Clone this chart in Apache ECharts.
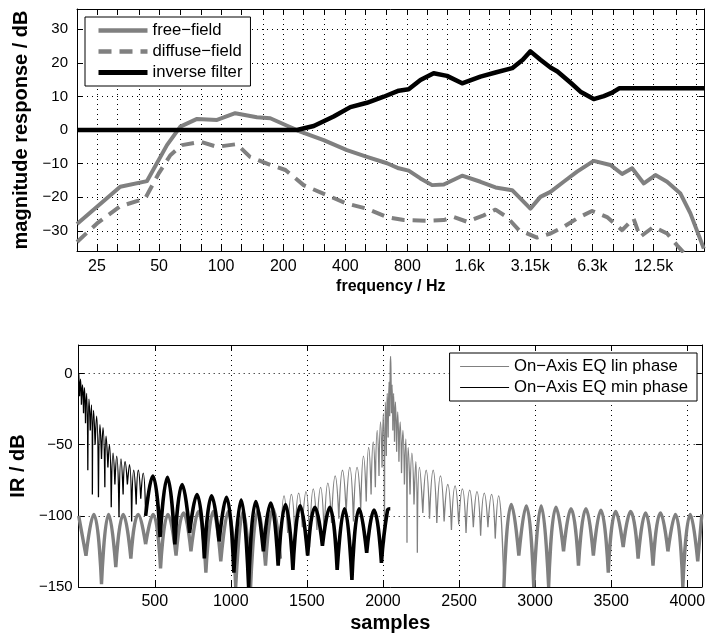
<!DOCTYPE html>
<html><head><meta charset="utf-8">
<script src="https://cdn.jsdelivr.net/npm/echarts@6/dist/echarts.min.js"></script>
<style>html,body{margin:0;padding:0;background:#fff}#c{width:708px;height:637px}</style>
</head><body><div id="c"></div>
<script>
// ---------- top panel: magnitude responses ----------
const bandFreqs = [20,25,31.5,40,50,63,80,100,125,160,200,250,315,400,500,630,800,1000,1250,1600,2000,2500,3150,4000,5000,6300,8000,10000,12500,16000,20000];
const labelFreqs = [25,50,100,200,400,800,1600,3150,6300,12500];
const labelTexts = ['25','50','100','200','400','800','1.6k','3.15k','6.3k','12.5k'];
const dbTicks = [-30,-20,-10,0,10,20,30];

const ffFreq = [20,32.4,43.7,54.6,63.4,76.4,95.5,117,149,173,205,242,314,407,509,637,726,811,925,1054,1200,1473,1808,2138,2576,3158,3531,3950,4577,5317,6400,7710,8790,9830,11200,12750,14520,16860,18840,21880];
const ffDb   = [-28.0,-16.9,-15.2,-4.5,1.0,3.3,3.0,5.0,3.8,3.5,1.5,-0.5,-3.0,-6.0,-8.0,-9.9,-11.4,-12.1,-14.4,-16.4,-16.2,-13.6,-15.4,-17.1,-17.9,-23.4,-19.9,-18.4,-15.4,-12.4,-9.2,-10.4,-13.1,-11.4,-15.9,-13.4,-15.4,-18.9,-24.8,-35.3];

const dfFreq = [20,25,32.4,42.8,49.8,56.7,64.5,79.3,95.5,119,138,173,205,251,326,407,509,637,768,995,1200,1342,1557,1874,2138,2430,2780,3400,3950,4577,5317,6280,7430,8790,9980,10740,12500,14520,16230,17500,19000];
const dfDb   = [-33.3,-27.8,-22.7,-20.4,-12.9,-7.5,-4.5,-3.5,-5.0,-4.2,-8.0,-10.4,-11.9,-16.4,-19.4,-21.9,-23.4,-25.9,-26.8,-27.0,-26.8,-25.9,-27.3,-25.4,-23.7,-25.9,-29.8,-32.0,-30.8,-28.8,-26.3,-24.1,-25.9,-29.8,-26.3,-31.8,-28.8,-30.8,-34.3,-36.5,-40];

const invFreq = [20,233,281,351,423,509,614,726,811,925,1072,1244,1473,1808,2138,2576,2900,3158,3531,3950,4270,4980,5520,6400,7170,7870,8500,22050];
const invDb   = [0,0,1.2,4.0,6.8,8.1,9.9,11.7,12.1,14.9,16.9,16.1,13.9,15.9,17.1,18.4,20.9,23.4,20.9,18.6,17.4,13.9,11.4,9.2,10.1,11.1,12.4,12.4];

// ---------- bottom panel: impulse responses (dB) ----------
const irXTicks = [500,1000,1500,2000,2500,3000,3500,4000];
const irYTicks = [-150,-100,-50,0];

// lin phase: regular lobes (left part)
const linArchL_s  = [0,48,99,150,197,244,293,343,391,440,489,538,587,640,689,738,787,836,885,934,983,1032,1081,1130,1179,1228,1277,1326];
const linArchL_db = [-100,-128,-99,-148,-99,-136,-99,-130,-99,-120,-99,-137,-99,-128,-98,-125,-97,-140,-97,-132,-97,-150,-97,-150,-96,-135,-95,-130];
// lin phase: narrower lobes around the main peak
const linMid_s  = [1326,1350,1374,1398,1422,1446,1470,1494,1518,1542,1566,1590,1614,1638,1662,1686,1710,1734,1758,1782,1806,1830,1854,1872,1890,1906,1922,1936,1950,1962,1974,1984,1994,2002,2010,2016,2022,2028,2034,2040,2044,2048,2050,2053,2056,2060,2065,2070,2076,2082,2090,2097,2105,2113,2122,2131,2141,2150,2158,2166,2178,2190,2204,2216,2226,2240,2262,2284,2306,2330,2354,2378,2402,2426,2450,2474,2498,2522,2546,2570,2594,2618,2642,2666,2690,2714,2738,2760,2795];
const linMid_db = [-130,-86,-112,-85,-118,-84,-108,-83,-122,-81,-110,-80,-115,-77,-105,-72,-102,-68,-98,-66,-104,-66,-95,-58,-90,-52,-85,-48,-80,-40,-72,-34,-66,-28,-119,-20,-58,-14,-45,-6,-30,5,12,-3,-28,-8,-40,-14,-48,-20,-55,-27,-62,-34,-70,-40,-78,-46,-119,-52,-85,-56,-92,-62,-126,-66,-98,-68,-102,-68,-105,-72,-104,-78,-110,-79,-106,-81,-112,-82,-108,-83,-114,-84,-108,-85,-116,-86,-150];
// lin phase: regular lobes (right part)
const linArchR_s  = [2795,2844,2893,2942,2991,3040,3089,3138,3187,3236,3285,3334,3383,3432,3481,3530,3579,3628,3677,3726,3775,3824,3873,3922,3971,4020,4069,4096];
const linArchR_db = [-150,-92,-128,-93,-150,-93,-150,-94,-125,-95,-135,-95,-128,-96,-140,-97,-122,-97,-130,-98,-135,-98,-125,-99,-150,-99,-132,-99];

// min phase: dense decay at the start
const minSpk_s  = [0,6,12,18,25,32,38,45,52,60,68,76,84,90,98,108,118,130,140,150,160,172,180,192,202,214,226,238,250,265,278,292,305,320,334,348,362,378,392,408,424,440];
const minSpk_db = [0,-16,-4,-22,-8,-28,-10,-35,-14,-68,-18,-40,-22,-85,-26,-50,-30,-87,-36,-60,-38,-80,-44,-66,-50,-94,-56,-78,-58,-101,-60,-85,-62,-78,-64,-104,-68,-92,-68,-88,-70,-100];
// min phase: regular lobes
const minArch_s  = [440,487,535,583,632,680,729,777,826,874,923,971,1020,1068,1117,1165,1214,1262,1311,1359,1408,1456,1505,1553,1602,1650,1699,1747,1796,1844,1893,1941,1990,2030,2048];
const minArch_db = [-100,-72,-115,-73,-120,-78,-112,-85,-130,-86,-118,-87,-140,-89,-150,-90,-125,-91,-135,-92,-138,-93,-128,-94,-121,-94,-138,-95,-145,-95,-126,-96,-133,-96,-95];

// ---------- helpers ----------
const zip = (a, b) => a.map((v, i) => [v, b[i]]);
function lobes(xs, ys) {
  const out = [];
  for (let i = 0; i < xs.length; i++) {
    out.push([xs[i], ys[i]]);
    const dip = i > 0 && i < xs.length - 1 && ys[i] < ys[i - 1] && ys[i] < ys[i + 1];
    if (dip) { out.push([xs[i], '-']); out.push([xs[i], ys[i]]); }
  }
  return out;
}
const minus = v => String(v).replace('-', '\u2212');
const FONT = 'Liberation Sans, Arial, Helvetica, sans-serif';
const GRAY = '#808080';
const dotted = { type: [1, 4], color: '#000', width: 1 };

function freqLabel(v) {
  let best = 0, bd = 1e9;
  labelFreqs.forEach((f, i) => { const d = Math.abs(Math.log(v / f)); if (d < bd) { bd = d; best = i; } });
  return labelTexts[best];
}

const chart = echarts.init(document.getElementById('c'), null, { renderer: 'canvas' });
const baseTick = { show: true, inside: true, length: 6, lineStyle: { color: '#000', width: 1 } };
const axisLine = { show: true, onZero: false, lineStyle: { color: '#000', width: 1 } };
const lineSeries = (name, data, color, width, smooth) => ({
  type: 'line', name, xAxisIndex: 2, yAxisIndex: 2, data,
  symbol: 'none', showSymbol: false, silent: true, clip: true,
  smooth: smooth ? 0.5 : false, connectNulls: false,
  lineStyle: { color, width, join: 'round' }, itemStyle: { color }
});

chart.setOption({
  animation: false,
  backgroundColor: '#fff',
  textStyle: { fontFamily: FONT },
  grid: [
    { left: 77, top: 9, right: 3.5, bottom: 386 },
    { left: 77, top: 345, right: 3.5, bottom: 50 }
  ],
  legend: [
    {
      data: [
        { name: 'free\u2212field', lineStyle: { width: 4.5 } },
        { name: 'diffuse\u2212field', lineStyle: { width: 4.5 } },
        { name: 'inverse filter', lineStyle: { width: 5 } }
      ],
      orient: 'vertical', left: 85, top: 17,
      itemWidth: 49, itemHeight: 17, itemGap: 4,
      padding: [5, 8, 5, 11],
      borderColor: '#000', borderWidth: 1, borderRadius: 0, backgroundColor: '#fff',
      textStyle: { fontSize: 16.7, color: '#000', fontFamily: FONT },
      itemStyle: { opacity: 0 },
      selectedMode: false
    },
    {
      data: ['On\u2212Axis EQ lin phase', 'On\u2212Axis EQ min phase'],
      orient: 'vertical', right: 11, top: 353,
      itemWidth: 49, itemHeight: 17, itemGap: 4,
      padding: [5, 9, 5, 10],
      borderColor: '#000', borderWidth: 1, borderRadius: 0, backgroundColor: '#fff',
      textStyle: { fontSize: 16.7, color: '#000', fontFamily: FONT },
      itemStyle: { opacity: 0 },
      lineStyle: { width: 1 },
      selectedMode: false
    }
  ],
  xAxis: [
    {
      type: 'log', logBase: 10, gridIndex: 0, min: 20, max: 22050, position: 'bottom',
      axisLine, axisTick: Object.assign({ customValues: bandFreqs }, baseTick),
      axisLabel: { customValues: labelFreqs, formatter: freqLabel, fontSize: 16, color: '#000', margin: 8, fontFamily: FONT },
      splitLine: { show: true, lineStyle: dotted }, minorTick: { show: false }, minorSplitLine: { show: false },
      name: 'frequency / Hz', nameLocation: 'middle', nameGap: 28,
      nameTextStyle: { fontWeight: 'bold', fontSize: 16, color: '#000', fontFamily: FONT }
    },
    {
      type: 'log', logBase: 10, gridIndex: 0, min: 20, max: 22050, position: 'top',
      axisLine, axisTick: Object.assign({ customValues: bandFreqs }, baseTick),
      axisLabel: { show: false }, splitLine: { show: false }
    },
    {
      type: 'value', gridIndex: 1, min: 0, max: 4096, position: 'bottom',
      axisLine, axisTick: Object.assign({ customValues: irXTicks }, baseTick),
      axisLabel: { customValues: irXTicks, formatter: v => String(v), fontSize: 16, color: '#000', margin: 7, fontFamily: FONT },
      splitLine: { show: true, lineStyle: dotted },
      name: 'samples', nameLocation: 'middle', nameGap: 26,
      nameTextStyle: { fontWeight: 'bold', fontSize: 20, color: '#000', fontFamily: FONT }
    },
    {
      type: 'value', gridIndex: 1, min: 0, max: 4096, position: 'top',
      axisLine, axisTick: Object.assign({ customValues: irXTicks }, baseTick),
      axisLabel: { show: false }, splitLine: { show: false }
    }
  ],
  yAxis: [
    {
      type: 'value', gridIndex: 0, min: -36, max: 36, position: 'left',
      axisLine, axisTick: Object.assign({ customValues: dbTicks }, baseTick),
      axisLabel: { customValues: dbTicks, formatter: minus, fontSize: 15, color: '#000', margin: 9, fontFamily: FONT },
      splitLine: { show: true, lineStyle: dotted },
      name: 'magnitude response / dB', nameLocation: 'middle', nameGap: 42,
      nameTextStyle: { fontWeight: 'bold', fontSize: 20, color: '#000', fontFamily: FONT }
    },
    {
      type: 'value', gridIndex: 0, min: -36, max: 36, position: 'right',
      axisLine, axisTick: Object.assign({ customValues: dbTicks }, baseTick),
      axisLabel: { show: false }, splitLine: { show: false }
    },
    {
      type: 'value', gridIndex: 1, min: -150, max: 20, position: 'left',
      axisLine, axisTick: Object.assign({ customValues: irYTicks }, baseTick),
      axisLabel: { customValues: irYTicks, formatter: minus, fontSize: 15, color: '#000', margin: 6, fontFamily: FONT },
      splitLine: { show: true, lineStyle: dotted },
      name: 'IR / dB', nameLocation: 'middle', nameGap: 50,
      nameTextStyle: { fontWeight: 'bold', fontSize: 20, color: '#000', fontFamily: FONT }
    },
    {
      type: 'value', gridIndex: 1, min: -150, max: 20, position: 'right',
      axisLine, axisTick: Object.assign({ customValues: irYTicks }, baseTick),
      axisLabel: { show: false }, splitLine: { show: false }
    }
  ],
  series: [
    { type: 'line', name: 'free\u2212field', xAxisIndex: 0, yAxisIndex: 0, data: zip(ffFreq, ffDb),
      symbol: 'none', showSymbol: false, silent: true, clip: true,
      lineStyle: { color: GRAY, width: 4, join: 'round' }, itemStyle: { color: GRAY } },
    { type: 'line', name: 'diffuse\u2212field', xAxisIndex: 0, yAxisIndex: 0, data: zip(dfFreq, dfDb),
      symbol: 'none', showSymbol: false, silent: true, clip: true,
      lineStyle: { color: GRAY, width: 4, type: [13, 8], join: 'round' }, itemStyle: { color: GRAY } },
    { type: 'line', name: 'inverse filter', xAxisIndex: 0, yAxisIndex: 0, data: zip(invFreq, invDb),
      symbol: 'none', showSymbol: false, silent: true, clip: true,
      lineStyle: { color: '#000', width: 4.5, join: 'round' }, itemStyle: { color: '#000' } },

    lineSeries('On\u2212Axis EQ lin phase', lobes(linMid_s, linMid_db), GRAY, 1.3, true),
    lineSeries('On\u2212Axis EQ lin phase', lobes(linArchL_s, linArchL_db), GRAY, 3.4, true),
    lineSeries('On\u2212Axis EQ lin phase', lobes(linArchR_s, linArchR_db), GRAY, 3.4, true),
    lineSeries('On\u2212Axis EQ min phase', lobes(minSpk_s, minSpk_db), '#000', 1.3, true),
    lineSeries('On\u2212Axis EQ min phase', lobes(minArch_s, minArch_db), '#000', 3.6, true)
  ]
});
</script></body></html>
